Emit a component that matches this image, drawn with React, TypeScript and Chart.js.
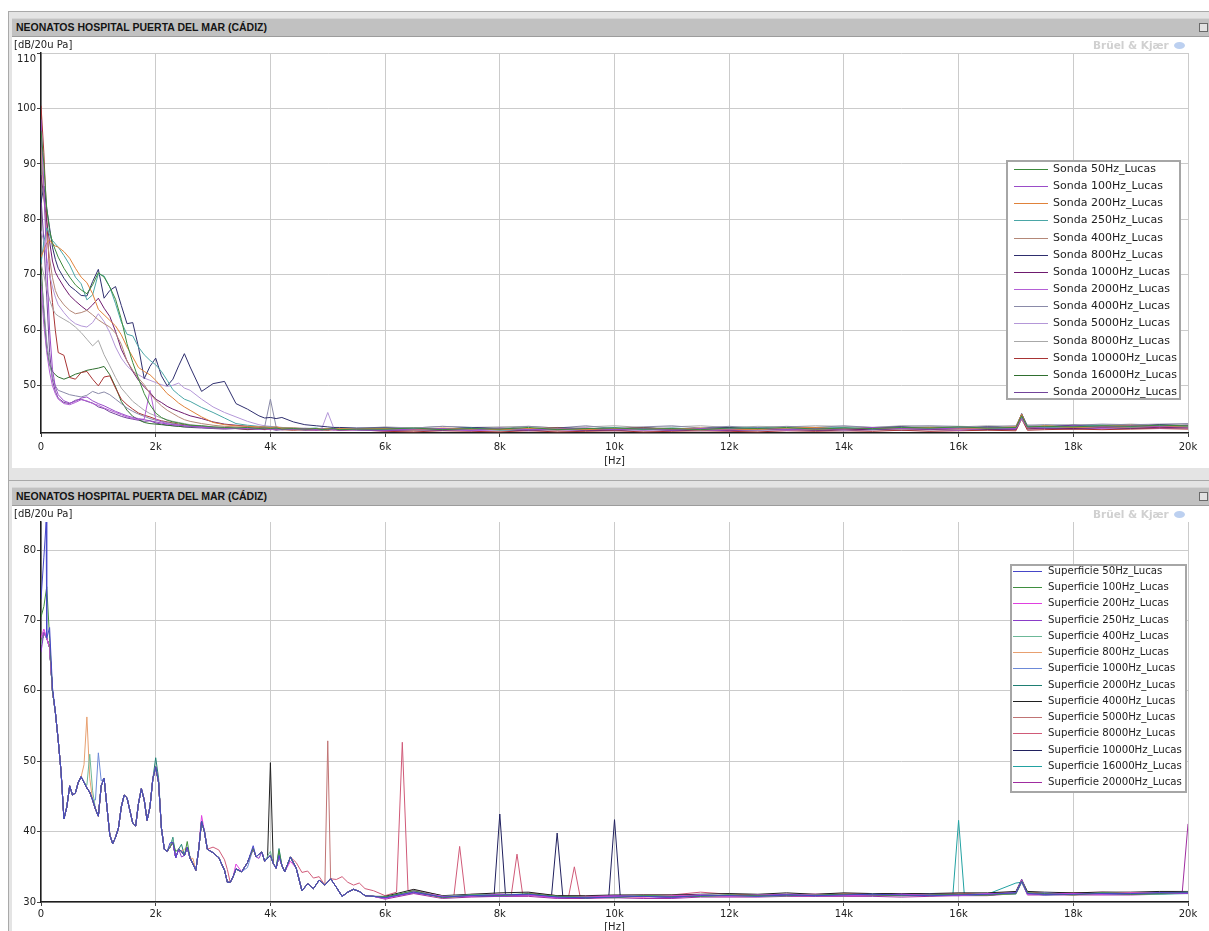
import React, { useEffect, useRef } from "react";
import { Chart, registerables } from "chart.js";

Chart.register(...registerables);

// ---------------- shared axis data ----------------
const X_TICKS = [0, 2000, 4000, 6000, 8000, 10000, 12000, 14000, 16000, 18000, 20000];
const X_TICK_LABELS = ["0", "2k", "4k", "6k", "8k", "10k", "12k", "14k", "16k", "18k", "20k"];
const Y_TICKS_TOP = [50, 60, 70, 80, 90, 100, 110];
const Y_TICKS_BOTTOM = [30, 40, 50, 60, 70, 80];

const PANEL_TITLE = "NEONATOS HOSPITAL PUERTA DEL MAR (CÁDIZ)";
const Y_UNIT = "[dB/20u Pa]";
const X_UNIT = "[Hz]";

// Frequencies (Hz)
const FREQ_LOW_A = [0, 50, 100, 150, 200, 250, 300, 400, 500, 600, 700, 800, 900, 1000, 1100, 1200, 1300, 1400, 1500, 1600, 1700, 1800, 1900, 2000, 2100, 2200, 2300, 2400, 2500, 2600, 2800, 3000, 3200, 3400, 3600, 3800, 3900, 4000, 4100, 4200, 4400, 4600, 4800, 4900, 5000, 5100, 5200, 5500];
const FREQ_FLAT = [6000, 6500, 7000, 7500, 8000, 8500, 9000, 9500, 10000, 10500, 11000, 11500, 12000, 12500, 13000, 13500, 14000, 14500, 15000, 15500, 16000, 16500, 17000, 17100, 17200, 17500, 18000, 18500, 19000, 19500, 20000];

// ---------------- top panel: Sonda ----------------
const SONDA_LABELS = ["Sonda 50Hz_Lucas", "Sonda 100Hz_Lucas", "Sonda 200Hz_Lucas", "Sonda 250Hz_Lucas", "Sonda 400Hz_Lucas", "Sonda 800Hz_Lucas", "Sonda 1000Hz_Lucas", "Sonda 2000Hz_Lucas", "Sonda 4000Hz_Lucas", "Sonda 5000Hz_Lucas", "Sonda 8000Hz_Lucas", "Sonda 10000Hz_Lucas", "Sonda 16000Hz_Lucas", "Sonda 20000Hz_Lucas"];
const SONDA_COLORS = ["#3c8a3c", "#9a4cc8", "#e0823a", "#4aa6a6", "#b48878", "#2e2e6e", "#6e1a6e", "#b45fd6", "#8a8aa8", "#b497d8", "#a8a8a8", "#a83434", "#2f6f2f", "#72449a"];

const sonda50Low = [96, 90, 82, 78, 75.8, 74.5, 73.2, 71.2, 69.6, 68.2, 67.3, 66.6, 68.2, 70.4, 69.6, 67.8, 65.6, 62, 57.6, 54.2, 51.3, 48.6, 46.6, 45.1, 44.3, 43.8, 43.5, 43.3, 43.1, 42.9, 42.8, 42.6, 42.5, 42.4, 42.5, 42.3, 42.4, 42.3, 42.4, 42.2, 42.3, 42.2, 42.3, 42.1, 42.2, 42.3, 42.1, 42.2];
const sonda100Low = [98, 86, 72, 60, 53, 49.8, 48.4, 47.3, 46.9, 47.2, 47.8, 48, 47.3, 46.8, 46.4, 45.9, 45.4, 45, 44.6, 44.3, 44.1, 43.9, 43.7, 43.5, 43.3, 43.1, 43, 42.9, 42.8, 42.7, 42.6, 42.5, 42.4, 42.3, 42.4, 42.2, 42.3, 42.2, 42.3, 42.1, 42.2, 42.3, 42.1, 42.2, 42.1, 42.2, 42, 42.2];
const sonda200Low = [73.2, 74.5, 75.8, 76.3, 75.6, 75.2, 75, 74.2, 73, 71.2, 69.6, 68.6, 66.6, 63.8, 62.8, 61.8, 60.8, 59.2, 57, 55.2, 53.3, 52.6, 52, 51, 49.8, 48.6, 47.8, 46.9, 46.2, 45.6, 44.4, 43.4, 43, 42.8, 42.7, 42.6, 42.6, 42.5, 42.6, 42.4, 42.4, 42.3, 42.3, 42.2, 42.3, 42.2, 42.3, 42.2];
const sonda250Low = [72, 76, 78.5, 77.2, 76.2, 75.6, 75, 73.5, 71.8, 69.6, 68.4, 65.5, 66.4, 70.2, 69.8, 67.8, 64.8, 61.5, 59.3, 59, 57, 55.6, 54.6, 53.8, 52.6, 51, 49.3, 48.4, 47.6, 47.2, 46.1, 45.2, 44.2, 43.2, 42.9, 42.7, 42.6, 42.6, 42.5, 42.5, 42.4, 42.3, 42.4, 42.2, 42.3, 42.2, 42.3, 42.1];
const sonda400Low = [93, 84, 77, 73, 69.5, 67.2, 66, 64.6, 63.6, 63, 63.2, 63.6, 62.8, 61.9, 61.2, 60.6, 59.5, 57.5, 54.5, 52.8, 51.4, 50.2, 48.6, 47.4, 46.4, 45.6, 45, 44.4, 43.9, 43.6, 43.2, 42.9, 42.7, 42.6, 42.5, 42.4, 42.4, 42.3, 42.4, 42.3, 42.2, 42.3, 42.2, 42.1, 42.2, 42.3, 42.1, 42.2];
const sonda800Low = [83, 86, 82, 78.5, 75, 72.8, 71.2, 69.4, 68, 67.2, 66.3, 66.2, 68.8, 71, 65.8, 67.2, 67.9, 64.5, 61.2, 61.4, 57, 51.3, 53.5, 55, 51.8, 50, 51.2, 53.6, 55.8, 53.4, 49, 50.4, 50.8, 46.8, 45.8, 44.6, 44.2, 44.3, 44.1, 44.3, 43.5, 43, 42.8, 42.7, 42.6, 42.5, 42.5, 42.4];
const sonda1000Low = [88, 84, 79.5, 76, 72.5, 70.5, 69.5, 67.8, 66.3, 65.3, 64.4, 63.6, 64.6, 65.8, 64, 62.5, 59.8, 56.6, 54.5, 52.6, 51, 49.8, 48.8, 47.6, 47, 46.3, 45.8, 45.4, 45, 44.6, 44.1, 43.5, 43.1, 42.9, 42.7, 42.5, 42.4, 42.5, 42.3, 42.4, 42.2, 42.3, 42.1, 42.2, 42.3, 42.1, 42.2, 42.1];
const sonda2000Low = [68, 61, 56, 52.5, 50, 48.6, 47.6, 46.8, 46.6, 47, 47.5, 47.3, 46.8, 46.5, 46, 45.6, 45.2, 44.8, 44.4, 44.1, 43.9, 44, 49.2, 44, 43.5, 43.2, 43, 42.9, 42.8, 42.7, 42.5, 42.4, 42.4, 42.3, 42.3, 42.2, 42.3, 42.1, 42.2, 42.1, 42.2, 42.1, 42, 42.1, 42.2, 42, 42.1, 42];
const sonda4000Low = [70, 64, 58, 54, 51.5, 50, 49.2, 48.8, 48.4, 48.2, 48, 48.3, 49, 48.6, 48.9, 48.4, 47.6, 46.8, 46, 45.4, 44.9, 44.5, 44.1, 43.8, 43.6, 43.4, 43.2, 43, 42.9, 42.8, 42.6, 42.5, 42.4, 42.4, 42.3, 42.4, 42.6, 47.6, 42.6, 42.3, 42.2, 42.3, 42.2, 42.1, 42.2, 42.2, 42.1, 42.2];
const sonda5000Low = [78, 76, 73, 70, 67.8, 66, 64.6, 63.2, 62, 61.2, 60.8, 60.6, 61.4, 63, 61.6, 59.6, 57, 55, 53.6, 52.6, 52, 51.4, 51, 50.6, 50.2, 49.9, 50.1, 50.5, 49.6, 49.2, 47.6, 46.2, 45.2, 44.4, 43.6, 43, 42.8, 42.7, 42.6, 42.5, 42.4, 42.3, 42.2, 42.4, 45.2, 42.5, 42.2, 42.2];
const sonda8000Low = [72, 70, 67.5, 65.5, 64, 63, 62.6, 62, 61.4, 60.6, 59.6, 58.4, 57.2, 58.2, 55.6, 53.6, 51.5, 49.6, 48.4, 47.2, 46.4, 45.6, 45, 44.6, 44.2, 43.9, 43.6, 43.4, 43.2, 43, 42.8, 42.6, 42.5, 42.4, 42.4, 42.3, 42.3, 42.2, 42.4, 42.3, 42.2, 42.4, 42.2, 42.3, 42.1, 42.3, 42.2, 42.3];
const sonda10000Low = [100.5, 92, 80, 70.5, 65, 60, 56, 55.5, 51.5, 51.2, 52.4, 52.6, 51.2, 50, 51.6, 51.8, 49.6, 47.6, 46.6, 45.8, 45.1, 44.7, 44.4, 44, 43.7, 43.5, 43.3, 43.1, 43, 42.9, 42.7, 42.5, 42.4, 42.3, 42.2, 42.3, 42.2, 42.1, 42.2, 42.1, 42, 42.1, 42, 42.1, 42, 42.1, 42, 42.1];
const sonda16000Low = [72, 63, 56.5, 53.8, 52.6, 52, 51.6, 51.2, 51.6, 52.1, 52.4, 52.8, 53, 53.2, 53.5, 52, 49.8, 47.2, 45.6, 44.5, 43.9, 43.4, 43.2, 43.1, 43, 42.9, 42.8, 42.7, 42.6, 42.6, 42.5, 42.4, 42.3, 42.4, 42.2, 42.3, 42.2, 42.3, 42.1, 42.2, 42.3, 42.1, 42.2, 42.2, 42.1, 42.2, 42.3, 42.1];
const sonda20000Low = [84, 76, 66, 56, 51, 49, 47.8, 47, 46.8, 47.4, 47.6, 47.2, 46.9, 46.2, 45.9, 45.3, 44.9, 44.5, 44.2, 44, 43.8, 43.6, 43.7, 43.3, 43.1, 42.9, 42.8, 42.7, 42.6, 42.5, 42.4, 42.3, 42.2, 42.3, 42.1, 42.2, 42.1, 42.2, 42, 42.1, 42.2, 42, 42.1, 42, 42.1, 42.2, 42, 42.1];

const sonda50Flat = [42.2, 42.4, 42.1, 42.3, 42.2, 42.5, 42.1, 42.3, 42.4, 42.2, 42.3, 42.1, 42.4, 42.3, 42.5, 42.2, 42.4, 42.3, 42.5, 42.4, 42.6, 42.4, 42.5, 44.6, 42.6, 42.7, 42.6, 42.8, 42.7, 42.9, 42.8];
const sonda100Flat = [42.0, 42.2, 42.3, 42.0, 42.4, 42.1, 42.2, 42.4, 42.1, 42.3, 42.0, 42.3, 42.2, 42.4, 42.1, 42.3, 42.2, 42.5, 42.3, 42.2, 42.4, 42.5, 42.3, 44.2, 42.5, 42.6, 42.8, 42.6, 42.8, 42.7, 42.9];
const sonda200Flat = [42.3, 42.1, 42.4, 42.2, 42.1, 42.3, 42.4, 42.1, 42.3, 42.4, 42.2, 42.4, 42.1, 42.2, 42.4, 42.5, 42.2, 42.4, 42.3, 42.5, 42.3, 42.4, 42.6, 44.9, 42.4, 42.8, 42.5, 42.7, 42.9, 42.6, 42.8];
const sonda250Flat = [42.1, 42.3, 42.2, 42.4, 42.0, 42.2, 42.3, 42.2, 42.5, 42.1, 42.4, 42.2, 42.3, 42.5, 42.2, 42.4, 42.5, 42.2, 42.4, 42.3, 42.5, 42.3, 42.4, 44.4, 42.7, 42.5, 42.7, 42.9, 42.6, 42.8, 42.7];
const sonda400Flat = [42.2, 42.0, 42.3, 42.1, 42.3, 42.2, 42.0, 42.3, 42.2, 42.1, 42.3, 42.0, 42.3, 42.1, 42.3, 42.1, 42.3, 42.4, 42.2, 42.3, 42.2, 42.4, 42.3, 44.1, 42.4, 42.6, 42.5, 42.6, 42.5, 42.7, 42.6];
const sonda800Flat = [42.4, 42.2, 42.2, 42.5, 42.3, 42.1, 42.5, 42.2, 42.2, 42.5, 42.1, 42.3, 42.5, 42.2, 42.3, 42.4, 42.2, 42.4, 42.6, 42.3, 42.3, 42.6, 42.4, 45.0, 42.6, 42.6, 42.9, 42.7, 42.6, 43.0, 42.8];
const sonda1000Flat = [42.0, 42.1, 42.0, 42.2, 42.1, 42.0, 42.2, 42.0, 42.1, 42.2, 42.0, 42.2, 42.0, 42.1, 42.2, 42.0, 42.2, 42.1, 42.3, 42.1, 42.3, 42.2, 42.2, 44.3, 42.3, 42.4, 42.3, 42.5, 42.4, 42.5, 42.4];
const sonda2000Flat = [41.9, 42.1, 42.2, 41.9, 42.1, 42.3, 42.0, 42.1, 42.3, 42.0, 42.2, 42.1, 41.9, 42.2, 42.0, 42.2, 42.1, 42.1, 42.3, 42.2, 42.0, 42.3, 42.2, 44.5, 42.3, 42.4, 42.5, 42.3, 42.6, 42.4, 42.5];
const sonda4000Flat = [42.5, 42.4, 42.7, 42.5, 42.3, 42.7, 42.4, 42.8, 42.3, 42.6, 42.8, 42.4, 42.7, 42.4, 42.7, 42.5, 42.8, 42.5, 42.7, 42.8, 42.7, 42.6, 42.8, 44.9, 42.9, 43.0, 42.9, 43.1, 43.0, 43.1, 43.2];
const sonda5000Flat = [42.1, 42.3, 42.0, 42.2, 42.3, 42.0, 42.3, 42.1, 42.2, 42.0, 42.3, 42.1, 42.3, 42.0, 42.2, 42.3, 42.0, 42.3, 42.2, 42.4, 42.1, 42.3, 42.3, 44.0, 42.5, 42.5, 42.4, 42.7, 42.5, 42.6, 42.6];
const sonda8000Flat = [42.6, 42.4, 42.7, 42.5, 42.6, 42.7, 42.4, 42.6, 42.8, 42.5, 42.6, 42.8, 42.5, 42.7, 42.6, 42.8, 42.7, 42.5, 42.8, 42.7, 42.6, 42.8, 42.7, 44.4, 42.9, 42.8, 43.0, 42.9, 43.1, 42.9, 43.0];
const sonda10000Flat = [41.8, 41.7, 41.9, 41.8, 41.7, 41.9, 41.7, 41.8, 41.9, 41.7, 41.8, 41.9, 41.8, 41.7, 41.9, 41.8, 41.9, 41.8, 42.0, 41.8, 41.9, 42.0, 41.9, 44.0, 42.0, 42.1, 42.2, 42.1, 42.2, 42.3, 42.2];
const sonda16000Flat = [42.2, 42.3, 42.1, 42.2, 42.4, 42.2, 42.1, 42.3, 42.2, 42.4, 42.1, 42.2, 42.3, 42.2, 42.1, 42.4, 42.3, 42.2, 42.3, 42.4, 42.5, 42.2, 42.4, 44.5, 42.5, 42.6, 42.7, 42.6, 42.8, 42.6, 42.7];
const sonda20000Flat = [41.9, 42.0, 42.1, 42.0, 42.1, 41.9, 42.1, 42.0, 41.9, 42.1, 42.0, 41.9, 42.1, 42.0, 42.1, 42.0, 41.9, 42.1, 42.0, 42.1, 42.0, 42.1, 42.2, 44.6, 42.2, 42.3, 42.2, 42.4, 42.3, 42.4, 42.5];

const SONDA_LOW = [sonda50Low, sonda100Low, sonda200Low, sonda250Low, sonda400Low, sonda800Low, sonda1000Low, sonda2000Low, sonda4000Low, sonda5000Low, sonda8000Low, sonda10000Low, sonda16000Low, sonda20000Low];
const SONDA_FLAT = [sonda50Flat, sonda100Flat, sonda200Flat, sonda250Flat, sonda400Flat, sonda800Flat, sonda1000Flat, sonda2000Flat, sonda4000Flat, sonda5000Flat, sonda8000Flat, sonda10000Flat, sonda16000Flat, sonda20000Flat];

// ---------------- bottom panel: Superficie ----------------
const SURF_LABELS = ["Superficie 50Hz_Lucas", "Superficie 100Hz_Lucas", "Superficie 200Hz_Lucas", "Superficie 250Hz_Lucas", "Superficie 400Hz_Lucas", "Superficie 800Hz_Lucas", "Superficie 1000Hz_Lucas", "Superficie 2000Hz_Lucas", "Superficie 4000Hz_Lucas", "Superficie 5000Hz_Lucas", "Superficie 8000Hz_Lucas", "Superficie 10000Hz_Lucas", "Superficie 16000Hz_Lucas", "Superficie 20000Hz_Lucas"];
const SURF_COLORS = ["#4646c8", "#3f8f3f", "#e040e0", "#8a3cc8", "#6cb898", "#e8a070", "#6c8ad8", "#1f7f73", "#202020", "#c07474", "#d05a78", "#20205e", "#22a2a2", "#a02ca0"];

// common low-frequency spectrum shared by all surface measurements
const FREQ_LOW_B = [0, 50, 100, 150, 200, 250, 300, 350, 400, 450, 500, 550, 600, 650, 700, 750, 800, 850, 900, 950, 1000, 1050, 1100, 1150, 1200, 1250, 1300, 1350, 1400, 1450, 1500, 1550, 1600, 1650, 1700, 1750, 1800, 1850, 1900, 1950, 2000, 2050, 2100, 2150, 2200, 2250, 2300, 2350, 2400, 2450, 2500, 2550, 2600, 2650, 2700, 2750, 2800, 2850, 2900, 3000, 3100, 3200, 3250, 3300, 3350, 3400, 3500, 3600, 3700, 3750, 3800, 3850, 3900, 4000, 4050, 4100, 4150, 4200, 4250, 4350, 4450, 4550, 4650, 4750, 4850, 4950, 5050, 5150, 5250, 5350, 5450, 5550, 5650, 5800];
const surfBaseLow = [66.5, 68.3, 67.5, 66.2, 60, 57, 53, 48.5, 41.8, 43.5, 46.5, 45.2, 45.5, 47, 47.8, 47, 46.2, 45.6, 44.5, 43.2, 42.2, 46.5, 47.6, 43.5, 39.5, 38.3, 39.2, 40.5, 43.5, 45.2, 44.8, 43, 41.2, 40.8, 44, 46.1, 44.5, 41.6, 43.5, 47.5, 49.2, 47, 40.5, 37.5, 37.2, 37.8, 38.5, 36.3, 37.5, 37.2, 36.6, 37.8, 36.2, 35.4, 34.5, 37.5, 41.5, 40, 37.5, 37, 36.3, 34.5, 32.8, 32.8, 33.6, 34.7, 34.3, 35.6, 37.6, 36.4, 36.8, 37.1, 35.8, 36.6, 35.5, 34.8, 36.6, 35.2, 34.3, 36.4, 34.8, 31.6, 32.6, 31.9, 33.1, 32.4, 33.3, 32.1, 30.8, 31.4, 31.8, 31.5, 30.9, 30.8];

const surf50Flat = [30.6, 31.4, 30.7, 30.9, 31.0, 31.1, 30.7, 30.6, 30.7, 30.8, 30.7, 30.9, 30.9, 30.8, 31.0, 30.9, 31.0, 31.1, 31.0, 30.9, 31.0, 31.1, 31.3, 32.9, 31.2, 31.1, 31.1, 31.2, 31.2, 31.3, 31.3];
const surf100Flat = [30.7, 31.6, 30.6, 31.0, 30.9, 31.2, 30.8, 30.7, 30.6, 30.9, 30.8, 30.8, 31.0, 30.9, 30.9, 31.0, 31.1, 31.0, 30.9, 31.0, 31.1, 31.0, 31.2, 33.0, 31.3, 31.2, 31.0, 31.3, 31.1, 31.2, 31.4];
const surf200Flat = [30.5, 31.5, 30.8, 30.8, 31.1, 31.0, 30.6, 30.8, 30.8, 30.7, 30.9, 31.0, 30.8, 31.0, 30.9, 31.1, 30.9, 31.0, 31.1, 31.0, 30.9, 31.2, 31.2, 33.1, 31.1, 31.2, 31.2, 31.1, 31.3, 31.2, 31.3];
const surf250Flat = [30.6, 31.3, 30.7, 30.9, 30.8, 31.0, 30.7, 30.7, 30.9, 30.8, 30.6, 30.9, 30.9, 30.9, 31.1, 30.9, 31.0, 30.9, 31.0, 31.1, 31.0, 31.1, 31.3, 33.2, 31.2, 31.0, 31.2, 31.2, 31.1, 31.3, 31.2];
const surf400Flat = [30.7, 31.5, 30.8, 31.0, 31.1, 31.1, 30.8, 30.6, 30.8, 30.9, 30.8, 30.8, 31.0, 30.8, 31.0, 31.0, 30.9, 31.1, 30.9, 31.0, 31.0, 31.2, 31.1, 32.8, 31.3, 31.1, 31.1, 31.3, 31.2, 31.1, 31.3];
const surf800Flat = [30.6, 31.4, 30.6, 30.9, 31.0, 31.0, 30.7, 30.8, 30.7, 30.7, 30.9, 30.9, 30.8, 30.9, 30.9, 31.0, 31.1, 31.0, 31.0, 30.9, 31.1, 31.0, 31.2, 32.9, 31.2, 31.2, 31.0, 31.2, 31.3, 31.2, 31.2];
const surf1000Flat = [30.5, 31.6, 30.7, 31.0, 30.9, 31.1, 30.6, 30.7, 30.8, 30.8, 30.7, 31.0, 30.9, 30.9, 31.0, 30.9, 31.0, 31.0, 31.1, 31.0, 30.9, 31.1, 31.3, 33.0, 31.1, 31.3, 31.1, 31.1, 31.2, 31.3, 31.4];
const surf2000Flat = [30.7, 31.5, 30.8, 30.8, 31.0, 31.0, 30.8, 30.6, 30.7, 30.9, 30.8, 30.9, 30.8, 31.0, 30.9, 31.0, 30.9, 31.1, 31.0, 31.1, 31.0, 31.0, 31.2, 32.9, 31.2, 31.1, 31.2, 31.2, 31.1, 31.2, 31.3];
const surf4000Flat = [30.8, 31.8, 30.9, 31.1, 31.3, 31.4, 30.9, 30.9, 31.0, 31.0, 31.0, 31.1, 31.2, 31.1, 31.3, 31.1, 31.3, 31.2, 31.2, 31.2, 31.3, 31.3, 31.5, 33.2, 31.5, 31.4, 31.3, 31.4, 31.4, 31.5, 31.5];
const surf5000Flat = [30.6, 31.4, 30.8, 31.0, 30.9, 31.1, 30.8, 30.7, 30.7, 30.9, 30.7, 30.8, 30.9, 30.8, 31.0, 31.0, 30.9, 31.0, 31.1, 30.9, 31.0, 31.1, 31.2, 32.8, 31.1, 31.2, 31.1, 31.3, 31.1, 31.2, 31.3];
const surf8000Flat = [30.9, 31.7, 30.9, 31.1, 31.1, 31.3, 30.9, 30.8, 30.9, 31.0, 31.0, 31.4, 31.1, 31.0, 31.1, 31.1, 31.2, 31.1, 31.2, 31.1, 31.2, 31.2, 31.4, 33.0, 31.4, 31.3, 31.3, 31.4, 31.3, 31.4, 31.4];
const surf10000Flat = [30.6, 31.5, 30.7, 30.8, 31.0, 31.0, 30.6, 30.6, 30.7, 30.8, 30.7, 30.9, 30.9, 30.9, 31.0, 30.9, 31.0, 31.0, 31.0, 30.9, 31.0, 31.0, 31.2, 32.9, 31.2, 31.1, 31.2, 31.1, 31.2, 31.2, 31.3];
const surf16000Flat = [30.7, 31.5, 30.8, 31.0, 30.9, 31.1, 30.7, 30.8, 30.8, 30.8, 30.8, 30.8, 31.0, 30.8, 30.9, 31.0, 31.0, 30.9, 31.0, 31.1, 31.0, 31.1, 31.3, 32.8, 31.2, 31.0, 31.1, 31.2, 31.2, 31.1, 31.2];
const surf20000Flat = [30.4, 31.2, 30.5, 30.7, 30.8, 30.8, 30.5, 30.5, 30.6, 30.5, 30.5, 30.7, 30.7, 30.7, 30.8, 30.8, 30.8, 30.8, 30.7, 30.8, 30.9, 30.9, 31.2, 33.0, 31.0, 31.0, 31.0, 31.0, 31.0, 31.1, 31.1];

// where each surface measurement departs from the common curve: [Hz, dB]
const surf50Peaks = [[0, 73], [50, 79], [90, 84], [150, 69], [200, 60.5], [2250, 38.4], [3700, 38.0]];
const surf100Peaks = [[0, 70.5], [50, 72], [100, 74.8], [150, 67.5], [2350, 37.2], [2550, 38.6], [4150, 37.3]];
const surf200Peaks = [[0, 67.5], [50, 68.8], [2800, 42.3], [3400, 35.4], [4350, 35.8]];
const surf250Peaks = [[0, 65.5], [2450, 36.4], [3800, 36.2]];
const surf400Peaks = [[800, 46.6], [850, 51], [900, 45.8], [2300, 39.0], [4000, 37.2]];
const surf800Peaks = [[750, 49.5], [800, 56.3], [850, 47.6], [2500, 37.5], [2650, 36.2]];
const surf1000Peaks = [[950, 44.5], [1000, 51.2], [1050, 47.2], [3600, 34.9]];
const surf2000Peaks = [[2000, 50.5], [2050, 47.6], [2300, 39.2], [2450, 38.2], [4150, 37.6]];
const surf4000Peaks = [[3950, 36.2], [4000, 49.8], [4050, 35.4]];
const surf5000Peaks = [[4950, 32.4], [5000, 52.9], [5050, 33.3]];
const surf8000Peaks = [[3000, 37.8], [3100, 37.4], [3200, 36], [3250, 34.6], [4450, 35.6], [4550, 34.2], [4650, 34.4], [4750, 33.4], [4850, 33.6], [5150, 33.2], [5250, 33.6], [5350, 32.8], [5450, 32.4], [5550, 32.7], [5650, 31.9], [5800, 31.6], [6200, 31.4], [6300, 52.7], [6400, 31.6], [7200, 30.9], [7300, 37.9], [7400, 30.9], [8200, 31.0], [8300, 36.8], [8400, 31.0], [9200, 30.8], [9300, 35.0], [9400, 30.8]];
const surf10000Peaks = [[7900, 30.9], [8000, 42.5], [8100, 30.9], [8900, 30.7], [9000, 39.8], [9100, 30.7], [9900, 30.7], [10000, 41.7], [10100, 30.8]];
const surf16000Peaks = [[15900, 31.0], [16000, 41.6], [16100, 31.0], [17000, 32.7]];
const surf20000Peaks = [[19900, 31.4], [20000, 41.1]];

const SURF_FLAT = [surf50Flat, surf100Flat, surf200Flat, surf250Flat, surf400Flat, surf800Flat, surf1000Flat, surf2000Flat, surf4000Flat, surf5000Flat, surf8000Flat, surf10000Flat, surf16000Flat, surf20000Flat];
const SURF_PEAKS = [surf50Peaks, surf100Peaks, surf200Peaks, surf250Peaks, surf400Peaks, surf800Peaks, surf1000Peaks, surf2000Peaks, surf4000Peaks, surf5000Peaks, surf8000Peaks, surf10000Peaks, surf16000Peaks, surf20000Peaks];

// ---------------- dataset construction ----------------
type Pt = { x: number; y: number };

function pairUp(freqs: number[], vals: number[]): Pt[] {
  return freqs.map((f, i) => ({ x: f, y: vals[i] }));
}

function buildSonda() {
  return SONDA_LABELS.map((label, i) => ({
    label,
    data: pairUp(FREQ_LOW_A, SONDA_LOW[i]).concat(pairUp(FREQ_FLAT, SONDA_FLAT[i])),
    borderColor: SONDA_COLORS[i],
    backgroundColor: SONDA_COLORS[i],
    borderWidth: 1,
    pointRadius: 0,
    tension: 0,
    fill: false,
  }));
}

function buildSurf() {
  return SURF_LABELS.map((label, i) => {
    const pts: Pt[] = pairUp(FREQ_LOW_B, surfBaseLow).concat(pairUp(FREQ_FLAT, SURF_FLAT[i]));
    for (const [f, v] of SURF_PEAKS[i]) {
      const hit = pts.find((p) => p.x === f);
      if (hit) hit.y = v;
      else pts.push({ x: f, y: v });
    }
    pts.sort((a, b) => a.x - b.x);
    return {
      label,
      data: pts,
      borderColor: SURF_COLORS[i],
      backgroundColor: SURF_COLORS[i],
      borderWidth: 1,
      pointRadius: 0,
      tension: 0,
      fill: false,
    };
  });
}

// ---------------- legend plugin ----------------
type LegendCfg = { dx: number; dy: number; w: number; h: number; first: number; step: number; l0: number; l1: number; tx: number; font: string };

function makeLegend(id: string, c: LegendCfg) {
  return {
    id,
    afterDraw(chart: any) {
      const { ctx, chartArea } = chart;
      const left = Math.round(chartArea.right - c.dx);
      const top = Math.round(chartArea.top + c.dy);
      ctx.save();
      ctx.fillStyle = "#ffffff";
      ctx.fillRect(left, top, c.w, c.h);
      ctx.strokeStyle = "#a6a6a6";
      ctx.lineWidth = 2;
      ctx.strokeRect(left, top, c.w, c.h);
      ctx.font = c.font;
      ctx.textBaseline = "middle";
      ctx.textAlign = "left";
      chart.data.datasets.forEach((ds: any, i: number) => {
        const y = Math.round(top + c.first + i * c.step) + 0.5;
        ctx.strokeStyle = ds.borderColor;
        ctx.lineWidth = 1;
        ctx.beginPath();
        ctx.moveTo(left + c.l0, y);
        ctx.lineTo(left + c.l1, y);
        ctx.stroke();
        ctx.fillStyle = "#1e1e1e";
        ctx.fillText(ds.label, left + c.tx, y);
      });
      ctx.restore();
    },
  };
}

const TICK_FONT = { family: "'DejaVu Sans', sans-serif", size: 10 };

function makeOptions(yMin: number, yMax: number, yTicks: number[], xTickPad: number, titlePadBottom: number, shiftTop: boolean) {
  return {
    responsive: false,
    animation: false as const,
    devicePixelRatio: 1,
    layout: { padding: { top: 15, right: 21, bottom: 0, left: 0 } },
    plugins: { legend: { display: false }, tooltip: { enabled: false }, title: { display: false } },
    scales: {
      x: {
        type: "linear" as const,
        min: 0,
        max: 20000,
        afterBuildTicks: (s: any) => {
          s.ticks = X_TICKS.map((v) => ({ value: v }));
        },
        afterFit: (s: any) => {
          s.height = 35;
        },
        ticks: {
          font: TICK_FONT,
          color: "#222",
          padding: xTickPad,
          maxRotation: 0,
          autoSkip: false,
          callback: (v: number) => {
            const k = X_TICKS.indexOf(v);
            return k >= 0 ? X_TICK_LABELS[k] : "";
          },
        },
        grid: { color: "#cbcbcb", lineWidth: 1, tickLength: 4, tickColor: "#444" },
        border: { color: "#1e1e1e", width: 1.5 },
        title: { display: true, text: X_UNIT, font: TICK_FONT, color: "#222", padding: { top: 0, bottom: titlePadBottom } },
      },
      y: {
        type: "linear" as const,
        min: yMin,
        max: yMax,
        afterBuildTicks: (s: any) => {
          s.ticks = yTicks.map((v) => ({ value: v }));
        },
        afterFit: (s: any) => {
          s.width = 29;
        },
        ticks: {
          font: TICK_FONT,
          color: "#222",
          padding: 1,
          callback: (v: number) => (shiftTop && v === yMax ? ["", String(v)] : String(v)),
        },
        grid: { color: "#cbcbcb", lineWidth: 1, tickLength: 4, tickColor: "#444" },
        border: { color: "#1e1e1e", width: 1.5 },
      },
    },
  };
}

function SpectrumChart(props: { kind: "top" | "bottom" }) {
  const ref = useRef<HTMLCanvasElement | null>(null);
  useEffect(() => {
    if (!ref.current) return;
    const isTop = props.kind === "top";
    const legend = isTop
      ? makeLegend("sondaLegend", { dx: 181, dy: 108, w: 173, h: 238, first: 8, step: 17.15, l0: 7, l1: 41, tx: 46, font: "11px 'DejaVu Sans', sans-serif" })
      : makeLegend("surfLegend", { dx: 177, dy: 43, w: 175, h: 227, first: 6, step: 16.23, l0: 2, l1: 31, tx: 37, font: "10.2px 'DejaVu Sans', sans-serif" });
    const chart = new Chart(ref.current, {
      type: "line",
      data: { datasets: (isTop ? buildSonda() : buildSurf()) as any },
      options: (isTop
        ? makeOptions(41.5, 110, Y_TICKS_TOP, 4, 1, true)
        : makeOptions(30, 84, Y_TICKS_BOTTOM, 2, 4, false)) as any,
      plugins: [legend],
    });
    return () => chart.destroy();
  }, [props.kind]);
  return <canvas ref={ref} width={1197} height={430} style={{ display: "block", width: 1197, height: 430 }} />;
}

const abs = (l: number, t: number, w: number, h: number, extra: React.CSSProperties = {}): React.CSSProperties => ({
  position: "absolute",
  left: l,
  top: t,
  width: w,
  height: h,
  boxSizing: "border-box",
  ...extra,
});

function Panel(props: { top: number; kind: "top" | "bottom" }) {
  const t = props.top;
  return (
    <>
      <div style={abs(8, t, 1210, 470, { background: "#e4e4e4", border: "1px solid #a9a9a9" })} />
      <div
        style={abs(12, t + 7, 1197, 19, {
          background: "#c1c1c1",
          borderTop: "1px solid #d6d6d6",
          borderBottom: "1px solid #9c9c9c",
          color: "#141414",
          font: "bold 10.5px 'Liberation Sans', Arial, sans-serif",
          lineHeight: "17px",
          paddingLeft: 4,
          whiteSpace: "nowrap",
        })}
      >
        {PANEL_TITLE}
      </div>
      <div style={abs(1199, t + 12, 9, 9, { border: "1px solid #6a6a6a", background: "#e2e2e2" })} />
      <div style={abs(12, t + 26, 1197, 431, { background: "#ffffff" })} />
      <div style={abs(12, t + 27, 1197, 430)}>
        <SpectrumChart kind={props.kind} />
      </div>
      <div style={abs(14, t + 28, 120, 12, { font: "10px 'DejaVu Sans', sans-serif", lineHeight: "12px", color: "#222", whiteSpace: "nowrap" })}>
        {Y_UNIT}
      </div>
      <div style={abs(1093, t + 28, 80, 12, { font: "bold 10.5px 'DejaVu Sans', sans-serif", lineHeight: "12px", color: "#d0d0d0", whiteSpace: "nowrap" })}>
        Brüel &amp; Kjær
      </div>
      <div style={abs(1174, t + 31, 11, 7, { background: "#bcd0f0", borderRadius: "50%" })} />
    </>
  );
}

export default function App() {
  return (
    <div style={{ position: "absolute", left: 0, top: 0, width: 1209, height: 931, overflow: "hidden", background: "#ffffff" }}>
      <Panel top={11} kind="top" />
      <Panel top={480} kind="bottom" />
    </div>
  );
}
